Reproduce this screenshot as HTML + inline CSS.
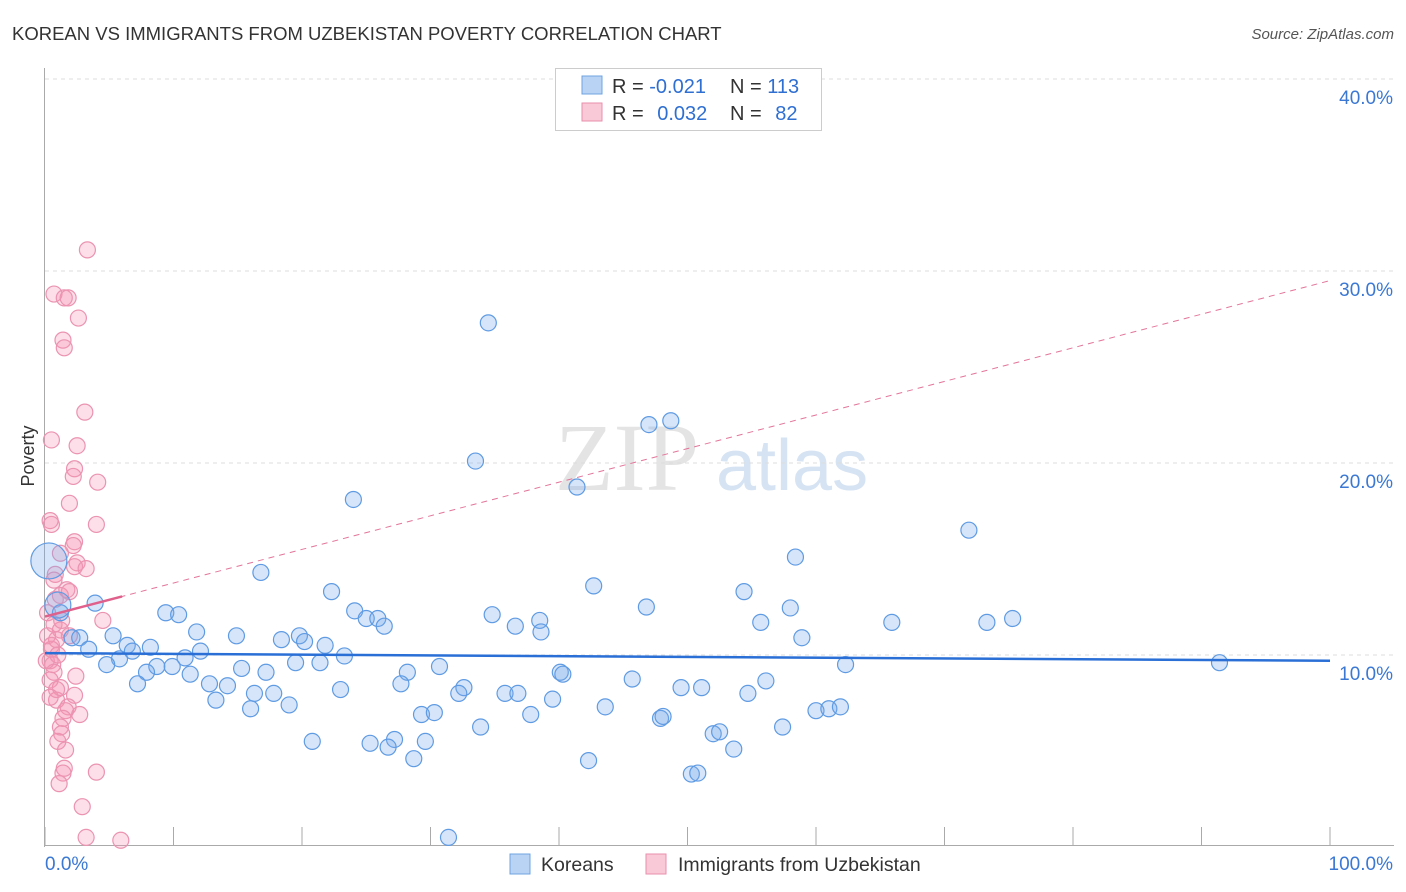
<!DOCTYPE html>
<html><head><meta charset="utf-8">
<style>
body{margin:0;background:#fff;font-family:"Liberation Sans",sans-serif;}
#wrap{position:relative;width:1406px;height:892px;overflow:hidden;}
</style></head>
<body>
<div id="wrap">
<svg id="chart" width="1406" height="892">
  <text x="12" y="40" font-size="18.5" fill="#333">KOREAN VS IMMIGRANTS FROM UZBEKISTAN POVERTY CORRELATION CHART</text>
  <text x="1394" y="39" font-size="15" fill="#555" font-style="italic" text-anchor="end">Source: ZipAtlas.com</text>
  <text x="34" y="456" font-size="18" fill="#333" transform="rotate(-90 34 456)" text-anchor="middle">Poverty</text>
  <text x="555" y="490" font-size="96" fill="#e4e4e4" font-family="Liberation Serif,serif">ZIP</text>
  <text x="716" y="490" font-size="72" fill="#d6e3f3">atlas</text>
  <g id="grid"></g><g id="axes"></g><g id="pts"></g><g id="lines"></g>
  <g>
    <rect x="555.5" y="68.5" width="266" height="62" fill="#fff" stroke="#ccc"/>
    <rect x="582" y="76" width="20" height="18" fill="#b8d3f3" stroke="#6fa3e0"/>
    <rect x="582" y="103" width="20" height="18" fill="#f9c9d7" stroke="#ea8fae"/>
    <text x="612" y="93" font-size="20" fill="#333">R = <tspan fill="#2f6fd1">-0.021</tspan></text>
    <text x="730" y="93" font-size="20" fill="#333">N = <tspan fill="#2f6fd1">113</tspan></text>
    <text x="612" y="120" font-size="20" fill="#333">R = <tspan fill="#2f6fd1" dx="8">0.032</tspan></text>
    <text x="730" y="120" font-size="20" fill="#333">N = <tspan fill="#2f6fd1" dx="8">82</tspan></text>
  </g>
  <g>
    <rect x="510" y="854" width="20" height="20" fill="#b8d3f3" stroke="#6fa3e0"/>
    <text x="541" y="871" font-size="19.5" fill="#333">Koreans</text>
    <rect x="646" y="854" width="20" height="20" fill="#f9c9d7" stroke="#ea8fae"/>
    <text x="678" y="871" font-size="19.5" fill="#333">Immigrants from Uzbekistan</text>
  </g>
</svg>
</div>
<script>
const yTicks=[10,20,30,40];
const yTickLabels=["10.0%","20.0%","30.0%","40.0%"];
const xTicks=[0,10,20,30,40,50,60,70,80,90,100];
const koreanX=[34.5,33.5,24.0,41.4,47.0,48.7,71.9,58.4,16.8,42.7,54.4,22.3,3.9,46.8,58.0,9.4,10.4,24.1,25.0,25.9,26.4,34.8,38.5,36.6,38.6,55.7,65.9,73.3,75.3,11.8,14.9,5.3,2.1,2.7,19.8,18.4,20.2,21.8,58.9,6.4,8.2,3.4,6.8,12.1,23.3,10.9,21.4,5.8,4.8,8.7,9.9,15.3,19.5,62.3,91.4,7.9,11.3,17.2,28.2,30.7,40.1,40.3,7.2,12.8,14.2,27.7,32.6,45.7,56.1,32.2,35.8,36.8,16.3,17.8,23.0,49.5,51.1,54.7,13.3,19.0,16.0,39.5,43.6,29.3,30.3,37.8,47.9,48.1,60.0,61.0,61.9,33.9,57.4,52.0,52.5,20.8,25.3,27.2,29.6,26.7,53.6,28.7,42.3,50.3,50.8,31.4,1.2,0.3,1.0];
const koreanY=[27.3,20.1,18.1,18.75,22.0,22.2,16.5,15.1,14.3,13.6,13.3,13.3,12.7,12.5,12.45,12.2,12.1,12.3,11.9,11.9,11.5,12.1,11.8,11.5,11.2,11.7,11.7,11.7,11.9,11.2,11.0,11.0,10.9,10.9,11.0,10.8,10.7,10.5,10.9,10.5,10.4,10.3,10.2,10.2,9.95,9.85,9.6,9.8,9.5,9.4,9.4,9.3,9.6,9.5,9.6,9.1,9.0,9.1,9.1,9.4,9.1,9.0,8.5,8.5,8.4,8.5,8.3,8.75,8.65,8.0,8.0,8.0,8.0,8.0,8.2,8.3,8.3,8.0,7.65,7.4,7.2,7.7,7.3,6.9,7.0,6.9,6.7,6.8,7.1,7.2,7.3,6.25,6.25,5.9,6.0,5.5,5.4,5.6,5.5,5.2,5.1,4.6,4.5,3.8,3.85,0.5,12.2,14.9,12.6];
const uzbX=[3.3,0.7,1.5,1.8,2.6,1.4,1.5,3.1,0.5,2.5,2.3,2.2,4.1,1.9,4.0,0.4,0.5,2.3,2.2,2.5,2.3,3.2,1.2,0.8,0.7,1.2,1.7,1.9,4.5,0.8,0.2,0.7,1.2,0.9,0.5,0.4,0.6,0.7,2.4,1.2,0.9,2.3,1.8,1.6,2.7,1.4,1.2,1.3,1.0,1.6,1.5,1.4,4.0,1.1,2.9,3.2,5.9,0.2,0.5,0.1,0.4,0.9,1.3,1.9,1.0,0.4];
const uzbY=[31.1,28.8,28.6,28.6,27.55,26.4,26.0,22.65,21.2,20.9,19.7,19.3,19.0,17.9,16.8,17.0,16.8,15.9,15.7,14.8,14.6,14.5,15.3,14.2,13.9,13.1,13.4,13.3,11.8,12.9,12.2,11.6,11.3,10.8,10.3,9.7,9.5,9.1,8.9,8.3,7.65,7.9,7.3,7.1,6.9,6.7,6.25,5.9,5.5,5.05,4.1,3.85,3.9,3.3,2.1,0.5,0.35,11.0,10.5,9.7,8.7,8.2,11.8,11.0,10.0,7.8];
const koreanTrend=[10.1,9.7];
const uzbTrend=[12.0,29.5];

const NS="http://www.w3.org/2000/svg";
const X0=45,X1=1330,Y0=847,PX=19.2;
const sx=v=>X0+(X1-X0)*v/100;
const sy=v=>Y0-v*PX;
function mk(tag,attrs,parent){const e=document.createElementNS(NS,tag);for(const k in attrs)e.setAttribute(k,attrs[k]);parent.appendChild(e);return e;}
const gGrid=document.getElementById('grid'),gAxes=document.getElementById('axes'),gPts=document.getElementById('pts'),gLines=document.getElementById('lines');
yTicks.forEach((t,i)=>{
  const l=mk('line',{x1:45,x2:1394,y1:sy(t),y2:sy(t),stroke:'#ddd','stroke-dasharray':'4,4'},gGrid);
  
  
  const tx=mk('text',{x:1393,y:sy(t)+25,'font-size':19,fill:'#3a78d4','text-anchor':'end'},gAxes);
  tx.textContent=yTickLabels[i];
  
  
});
const topLine=mk('line',{x1:45,x2:1394,y1:79,y2:79,stroke:'#ddd','stroke-dasharray':'4,4'},gGrid);


const ya=mk('line',{x1:44.5,x2:44.5,y1:68,y2:847,stroke:'#aaa'},gAxes);


const xa=mk('line',{x1:44,x2:1394,y1:845.5,y2:845.5,stroke:'#aaa'},gAxes);


xTicks.forEach(t=>{
  const l=mk('line',{x1:sx(t),x2:sx(t),y1:827,y2:846,stroke:'#aaa'},gAxes);
  
  
});
const xl0=mk('text',{x:45,y:870,'font-size':19,fill:'#3a78d4'},gAxes);xl0.textContent='0.0%';


const xl1=mk('text',{x:1393,y:870,'font-size':19,fill:'#3a78d4','text-anchor':'end'},gAxes);xl1.textContent='100.0%';



uzbX.forEach((x,i)=>{
  const c=mk('circle',{cx:sx(x),cy:sy(uzbY[i]),r:8,fill:'rgba(244,150,180,0.3)',stroke:'#eb93b1','stroke-width':1.2},gPts);
  
  
});
koreanX.forEach((x,i)=>{
  const r=i===koreanX.length-2?18:(i===koreanX.length-1?13:8);
  const c=mk('circle',{cx:sx(x),cy:sy(koreanY[i]),r:r,fill:'rgba(120,170,235,0.3)',stroke:'#5f9be3','stroke-width':1.2},gPts);
  
  
});
const kl=mk('line',{x1:sx(0),x2:sx(100),y1:sy(koreanTrend[0]),y2:sy(koreanTrend[1]),stroke:'#2a6fd6','stroke-width':2.5},gLines);


const ud=mk('line',{x1:sx(0),x2:sx(100),y1:sy(uzbTrend[0]),y2:sy(uzbTrend[1]),stroke:'#e3759b','stroke-width':1,'stroke-dasharray':'6,5'},gLines);


const f=6;
const us=mk('line',{x1:sx(0),x2:sx(f),y1:sy(uzbTrend[0]),y2:sy(uzbTrend[0]+(uzbTrend[1]-uzbTrend[0])*f/100),stroke:'#e0608c','stroke-width':2.5},gLines);


</script>
</body></html>
